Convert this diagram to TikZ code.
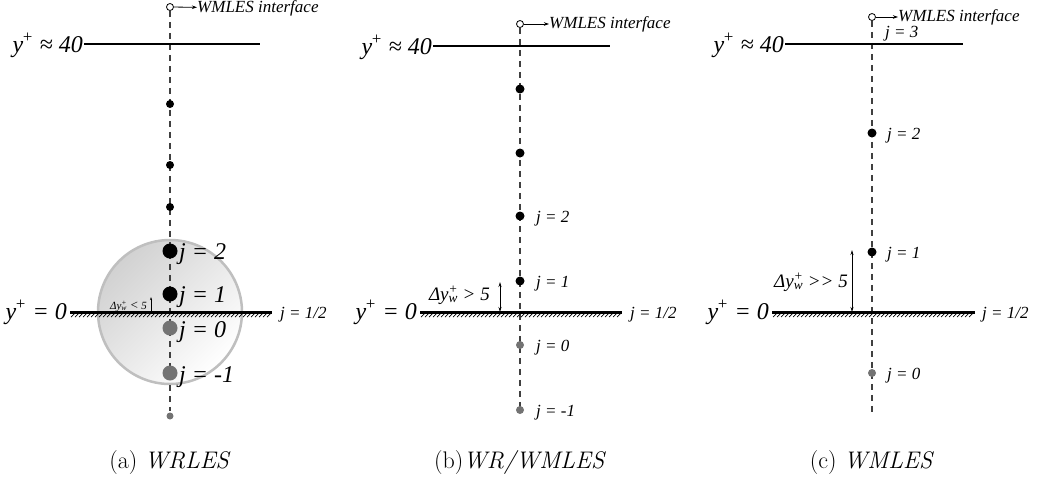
\documentclass[tikz,border=0pt]{standalone}
\usepackage{fontspec}
\usetikzlibrary{arrows.meta}
\newfontfamily\tms{Liberation Serif}
\begin{document}
\begin{tikzpicture}[x=1pt,y=-1pt,
  big/.style={font=\tms\itshape\fontsize{24}{24}\selectfont, inner sep=0pt},
  sm/.style={font=\tms\itshape\fontsize{17}{17}\selectfont, inner sep=0pt},
  tiny/.style={font=\tms\itshape\fontsize{11}{11}\selectfont, inner sep=0pt},
  captext/.style={font=\fontsize{24}{24}\selectfont, inner sep=0pt},
  odot/.style={circle, draw, fill=white, line width=0.8pt, minimum size=7pt, inner sep=0pt},
  bdot/.style={circle, fill=black, minimum size=#1, inner sep=0pt},
  gdot/.style={circle, fill=black!55, minimum size=#1, inner sep=0pt},
  grid/.style={dashed, dash pattern=on 6pt off 5pt, line width=1.3pt, black!75},
  wall/.style={line width=3pt},
  ifarrow/.style={-{Stealth[length=5pt,width=3.5pt]}, line width=0.8pt},
  dimarrow/.style={{Stealth[length=5pt,width=3pt]}-{Stealth[length=5pt,width=3pt]}, line width=0.9pt}
]
\useasboundingbox (0,0) rectangle (1040,483);

% ---------- (a) ----------
\shade[shading=axis, top color=black!18, middle color=black!7, bottom color=white, shading angle=45]
  (170,312) circle[radius=72];
\draw[black!25, line width=2.5pt] (170,312) circle[radius=72];
\node[odot] (ia) at (170,7) {};
\node[sm, anchor=west] (ta) at (197,8) {WMLES interface};
\draw[ifarrow] (ia) -- (ta);
\coordinate (ea) at (170,411);
\draw[grid] (ia.south) -- (ea);
\coordinate (la1) at (84,44);
\coordinate (la2) at (260,44);
\draw[line width=2.5pt] (la1) -- (la2);
\node[big, anchor=base east] (ya40) at (83,52) {y\kern-1.5pt\textsuperscript{+} ≈ 40};
\coordinate (wa1) at (70,312);
\coordinate (wa2) at (272,312);
\foreach \x in {71,75,...,268} \draw[line width=0.7pt] (\x,317) -- (\x+4,313);
\draw[wall] (wa1) -- (wa2);
\node[big, anchor=base east] (ya0) at (67,319) {y\kern-1.5pt\textsuperscript{+} = 0};
\node[sm, anchor=base west] (jha) at (280,318) {j = 1/2};
\node[bdot=8pt] (a1) at (170,104) {};
\node[bdot=8pt] (a2) at (170,165) {};
\node[bdot=8pt] (a3) at (170,207) {};
\node[bdot=15pt] (a4) at (170,251) {};
\node[bdot=15pt] (a5) at (170,294) {};
\node[gdot=15pt] (a6) at (170,328) {};
\node[gdot=15pt] (a7) at (170,373) {};
\node[gdot=7pt] (a8) at (170,416) {};
\node[big, anchor=base west] (ja2) at (179,259) {j = 2};
\node[big, anchor=base west] (ja1) at (179,302) {j = 1};
\node[big, anchor=base west] (ja0) at (179,337) {j = 0};
\node[big, anchor=base west] (jam) at (179,382) {j = -1};
\coordinate (da1) at (151,297);
\coordinate (da2) at (151,312);
\draw[{Stealth[length=3pt,width=2pt]}-, line width=0.6pt] (da1) -- (da2);
\node[tiny, anchor=base east] (dya) at (147,309) {Δy\rlap{\textsuperscript{+}}\textsubscript{w} {\fontsize{13}{13}\selectfont <} 5};
\node[captext] (capa) at (170,462) {(a) \textit{WRLES}};

% ---------- (b) ----------
\node[odot] (ib) at (520,24) {};
\node[sm, anchor=west] (tb) at (549,24) {WMLES interface};
\draw[ifarrow] (ib) -- (tb);
\coordinate (eb) at (520,410);
\draw[grid] (ib.south) -- (eb);
\coordinate (lb1) at (433,46);
\coordinate (lb2) at (610,46);
\draw[line width=1.3pt] (lb1) -- (lb2);
\node[big, anchor=base east] (yb40) at (432,54) {y\kern-1.5pt\textsuperscript{+} ≈ 40};
\coordinate (wb1) at (420,312);
\coordinate (wb2) at (622,312);
\foreach \x in {421,425,...,618} \draw[line width=0.7pt] (\x,317) -- (\x+4,313);
\draw[wall] (wb1) -- (wb2);
\node[big, anchor=base east] (yb0) at (417,319) {y\kern-1.5pt\textsuperscript{+} = 0};
\node[sm, anchor=base west] (jhb) at (630,318) {j = 1/2};
\node[bdot=9pt] (b1) at (520,89) {};
\node[bdot=9pt] (b2) at (520,153) {};
\node[bdot=9pt] (b3) at (520,216) {};
\node[bdot=9pt] (b4) at (520,281) {};
\node[gdot=8pt] (b5) at (520,345) {};
\node[gdot=8pt] (b6) at (520,410) {};
\node[sm, anchor=base west] (jb2) at (536,222) {j = 2};
\node[sm, anchor=base west] (jb1) at (536,287) {j = 1};
\node[sm, anchor=base west] (jb0) at (536,351) {j = 0};
\node[sm, anchor=base west] (jbm) at (536,416) {j = -1};
\coordinate (db1) at (500,282);
\coordinate (db2) at (500,312);
\draw[dimarrow] (db1) -- (db2);
\node[sm, anchor=base east, font=\tms\itshape\fontsize{19}{19}\selectfont] (dyb) at (490,300) {Δy\rlap{\textsuperscript{+}}\textsubscript{w} > 5};
\node[captext] (capb) at (520,462) {(b)\textit{WR/WMLES}};

% ---------- (c) ----------
\node[odot] (ic) at (872,17) {};
\node[sm, anchor=west] (tc) at (898,17) {WMLES interface};
\draw[ifarrow] (ic) -- (tc);
\coordinate (ec) at (872,412);
\draw[grid] (ic.south) -- (ec);
\coordinate (lc1) at (785,44);
\coordinate (lc2) at (963,44);
\draw[line width=2pt] (lc1) -- (lc2);
\node[big, anchor=base east] (yc40) at (784,52) {y\kern-1.5pt\textsuperscript{+} ≈ 40};
\coordinate (wc1) at (772,312);
\coordinate (wc2) at (975,312);
\foreach \x in {773,777,...,971} \draw[line width=0.7pt] (\x,317) -- (\x+4,313);
\draw[wall] (wc1) -- (wc2);
\node[big, anchor=base east] (yc0) at (769,319) {y\kern-1.5pt\textsuperscript{+} = 0};
\node[sm, anchor=base west] (jhc) at (982,318) {j = 1/2};
\node[bdot=9pt] (c1) at (872,133) {};
\node[bdot=9pt] (c2) at (872,252) {};
\node[gdot=8pt] (c3) at (872,373) {};
\node[sm, anchor=base west] (jc3) at (885,37) {j = 3};
\node[sm, anchor=base west] (jc2) at (887,139) {j = 2};
\node[sm, anchor=base west] (jc1) at (887,258) {j = 1};
\node[sm, anchor=base west] (jc0) at (887,379) {j = 0};
\coordinate (dc1) at (852,250);
\coordinate (dc2) at (852,312);
\draw[dimarrow] (dc1) -- (dc2);
\node[sm, anchor=base east, font=\tms\itshape\fontsize{19}{19}\selectfont] (dyc) at (848,287) {Δy\rlap{\textsuperscript{+}}\textsubscript{w} >> 5};
\node[captext] (capc) at (872,462) {(c) \textit{WMLES}};
\end{tikzpicture}
\end{document}
